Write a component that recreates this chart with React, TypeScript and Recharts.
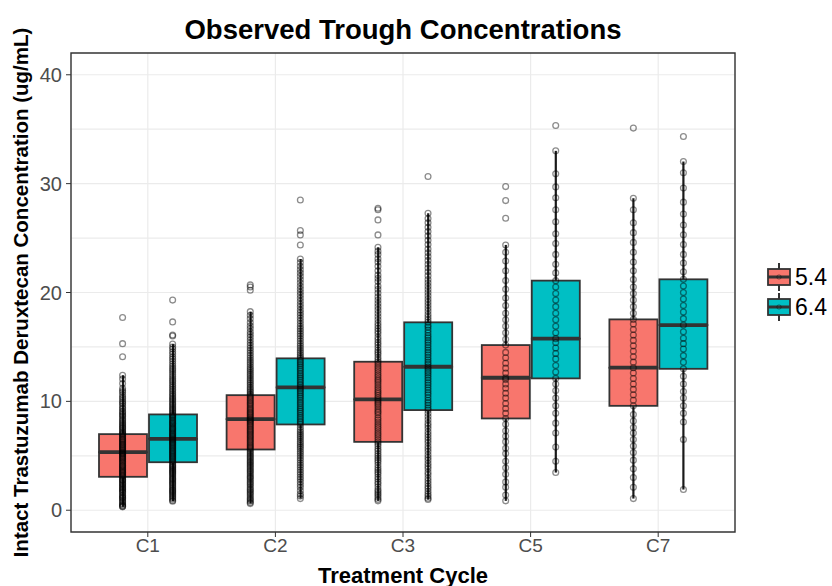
import React from 'react';
import {
  ComposedChart,
  Bar,
  Scatter,
  XAxis,
  YAxis,
  CartesianGrid,
  ReferenceArea,
  Label,
} from 'recharts';

// Treatment cycles on the x axis
const cycles = ['C1', 'C2', 'C3', 'C5', 'C7'];
const doses = ['5.4', '6.4'];
const doseColors = ['#F8766D', '#00BFC4'];

// Box statistics, 5.4 mg/kg
const low54 = [0.31, 0.61, 0.86, 0.86, 1.07];
const q1_54 = [3.07, 5.58, 6.28, 8.43, 9.59];
const med54 = [5.33, 8.37, 10.18, 12.17, 13.09];
const q3_54 = [6.99, 10.57, 13.64, 15.17, 17.53];
const high54 = [12.4, 18.24, 24.15, 24.37, 28.66];

// Box statistics, 6.4 mg/kg
const low64 = [0.83, 1.07, 0.98, 3.46, 1.9];
const q1_64 = [4.41, 7.88, 9.2, 12.11, 12.99];
const med64 = [6.56, 11.28, 13.18, 15.76, 17.01];
const q3_64 = [8.8, 13.95, 17.26, 21.09, 21.21];
const high64 = [15.26, 23.08, 27.28, 33.01, 32.03];

// Individual trough observations, 5.4 mg/kg
const obs54C1 = [
  0.31, 0.42, 0.6, 0.74, 0.95, 1.08, 1.22, 1.4, 1.57, 1.66, 1.85, 2.02, 2.2, 2.31, 2.48, 2.7, 2.83, 2.96, 3.07, 3.21,
  3.4, 3.52, 3.69, 3.85, 4.03, 4.18, 4.3, 4.47, 4.66, 4.8, 4.95, 5.12, 5.25, 5.33, 5.48, 5.64, 5.8, 5.97, 6.1, 6.28,
  6.45, 6.6, 6.78, 6.99, 7.15, 7.36, 7.6, 7.82, 8.05, 8.31, 8.6, 8.84, 9.1, 9.42, 9.77, 10.05, 10.4, 10.83, 11.2, 11.64,
  12.05, 12.4, 14.1, 15.3, 17.7,
  0.35, 0.5, 0.82, 1.15, 1.33, 1.75, 1.93, 2.12, 2.4, 2.6, 2.77, 3.14, 3.3, 3.46, 3.61, 3.77, 3.95, 4.1, 4.38, 4.55,
  4.72, 4.88, 5.05, 5.19, 5.4, 5.56, 5.72, 5.88, 6.04, 6.2, 6.37, 6.52, 6.7, 6.88, 7.05, 7.25, 7.5, 7.7, 7.95, 8.2,
  8.45, 8.72, 9.0, 9.3, 9.6, 9.9, 10.25, 10.6, 11.0,
];
const obs54C2 = [
  0.61, 0.85, 1.1, 1.42, 1.7, 1.96, 2.3, 2.58, 2.9, 3.15, 3.44, 3.7, 3.98, 4.25, 4.5, 4.78, 5.02, 5.3, 5.58, 5.8,
  6.04, 6.3, 6.55, 6.8, 7.04, 7.28, 7.5, 7.76, 8.0, 8.2, 8.37, 8.6, 8.84, 9.05, 9.3, 9.55, 9.8, 10.05, 10.3, 10.57,
  10.85, 11.15, 11.48, 11.8, 12.14, 12.5, 12.86, 13.2, 13.6, 14.0, 14.45, 14.9, 15.38, 15.9, 16.4, 16.95, 17.6, 18.24,
  20.2, 20.5, 20.7,
  0.7, 0.98, 1.26, 1.55, 1.84, 2.12, 2.44, 2.74, 3.02, 3.3, 3.57, 3.84, 4.12, 4.38, 4.64, 4.9, 5.16, 5.44, 5.7, 5.92,
  6.17, 6.42, 6.68, 6.92, 7.16, 7.4, 7.64, 7.88, 8.1, 8.3, 8.5, 8.72, 8.95, 9.18, 9.42, 9.68, 9.92, 10.18, 10.44, 10.7,
  11.0, 11.3, 11.64, 11.97, 12.32, 12.68, 13.02, 13.4, 13.8, 14.22, 14.68, 15.14, 15.64, 16.15, 16.7, 17.25, 17.9,
];
const obs54C3 = [
  0.86, 1.2, 1.55, 1.9, 2.4, 2.85, 3.3, 3.7, 4.15, 4.6, 5.0, 5.45, 5.9, 6.28, 6.7, 7.1, 7.5, 7.9, 8.3, 8.75, 9.1, 9.5,
  9.85, 10.18, 10.55, 10.9, 11.3, 11.7, 12.05, 12.45, 12.85, 13.25, 13.64, 14.05, 14.5, 14.95, 15.4, 15.9, 16.45, 16.95,
  17.5, 18.1, 18.7, 19.3, 19.95, 20.6, 21.3, 22.0, 22.8, 23.5, 24.15, 25.29, 26.67, 27.6, 27.74,
  1.0, 1.4, 1.75, 2.15, 2.6, 3.05, 3.5, 3.9, 4.4, 4.8, 5.2, 5.65, 6.1, 6.5, 6.9, 7.3, 7.7, 8.1, 8.5, 8.95, 9.3, 9.7,
  10.0, 10.35, 10.75, 11.1, 11.5, 11.9, 12.25, 12.65, 13.05, 13.45, 13.85, 14.3, 14.7, 15.2, 15.65, 16.2, 16.7, 17.2,
  17.8, 18.4, 19.0, 19.6, 20.3, 21.0, 21.6, 22.4, 23.1, 23.8,
];
const obs54C5 = [
  0.86, 1.4, 2.1, 2.6, 3.3, 3.9, 4.5, 5.2, 5.7, 6.3, 6.8, 7.3, 7.9, 8.43, 8.9, 9.35, 9.8, 10.3, 10.75, 11.2, 11.6, 12.0,
  12.17, 12.6, 13.05, 13.5, 14.0, 14.5, 15.17, 15.7, 16.3, 16.9, 17.5, 18.1, 18.8, 19.5, 20.3, 21.1, 22.0, 22.9, 23.7,
  24.37, 26.82, 28.44, 29.73,
];
const obs54C7 = [
  1.07, 2.1, 3.0, 3.8, 4.6, 5.3, 5.9, 6.5, 7.1, 7.6, 8.2, 8.8, 9.59, 10.1, 10.6, 11.1, 11.6, 12.1, 12.6, 13.09, 13.6,
  14.1, 14.6, 15.1, 15.6, 16.1, 16.6, 17.1, 17.53, 18.1, 18.7, 19.3, 19.9, 20.5, 21.2, 22.0, 22.8, 23.7, 24.6, 25.5,
  26.4, 27.6, 28.66, 35.1,
];

// Individual trough observations, 6.4 mg/kg
const obs64C1 = [
  0.83, 1.02, 1.25, 1.49, 1.7, 1.88, 2.1, 2.35, 2.54, 2.77, 2.95, 3.18, 3.4, 3.58, 3.77, 3.96, 4.15, 4.41, 4.6, 4.79,
  4.97, 5.16, 5.35, 5.52, 5.71, 5.9, 6.08, 6.25, 6.43, 6.56, 6.74, 6.9, 7.08, 7.27, 7.45, 7.63, 7.85, 8.02, 8.21, 8.44,
  8.63, 8.8, 9.04, 9.3, 9.55, 9.81, 10.1, 10.36, 10.65, 10.98, 11.3, 11.62, 11.95, 12.3, 12.7, 13.05, 13.46, 13.9,
  14.35, 14.8, 15.26, 16.0, 16.1, 17.3, 19.3,
  0.9, 1.15, 1.37, 1.6, 1.8, 2.0, 2.22, 2.45, 2.66, 2.86, 3.07, 3.3, 3.5, 3.68, 3.87, 4.06, 4.28, 4.5, 4.7, 4.88, 5.07,
  5.26, 5.44, 5.62, 5.8, 6.0, 6.17, 6.34, 6.5, 6.65, 6.82, 7.0, 7.17, 7.36, 7.54, 7.74, 7.94, 8.12, 8.32, 8.54, 8.72,
  8.92, 9.17, 9.42, 9.68, 9.95, 10.22, 10.5, 10.8, 11.12, 11.45, 11.8, 12.12, 12.5, 12.88, 13.25, 13.68, 14.1, 14.55,
  15.0,
];
const obs64C2 = [
  1.07, 1.5, 2.1, 2.6, 3.05, 3.5, 3.95, 4.36, 4.8, 5.2, 5.6, 5.95, 6.3, 6.68, 7.02, 7.4, 7.88, 8.2, 8.55, 8.9, 9.25,
  9.6, 9.94, 10.3, 10.62, 10.96, 11.28, 11.6, 11.95, 12.28, 12.6, 12.95, 13.3, 13.62, 13.95, 14.3, 14.7, 15.1, 15.55,
  16.0, 16.45, 16.9, 17.4, 17.9, 18.4, 18.95, 19.5, 20.05, 20.6, 21.2, 21.8, 22.4, 23.08, 24.37, 25.29, 25.69, 28.5,
  1.3, 1.8, 2.35, 2.85, 3.28, 3.72, 4.15, 4.58, 5.0, 5.4, 5.78, 6.12, 6.5, 6.85, 7.2, 7.62, 8.05, 8.38, 8.72, 9.08,
  9.42, 9.78, 10.12, 10.46, 10.8, 11.12, 11.45, 11.78, 12.12, 12.45, 12.78, 13.12, 13.46, 13.78, 14.12, 14.5, 14.9,
  15.32, 15.78, 16.22, 16.68, 17.15, 17.65, 18.15, 18.68, 19.22, 19.78, 20.32, 20.9, 21.5, 22.1, 22.75,
];
const obs64C3 = [
  0.98, 1.3, 1.75, 2.2, 2.7, 3.25, 3.8, 4.3, 4.85, 5.4, 5.9, 6.45, 6.95, 7.5, 8.0, 8.6, 9.2, 9.65, 10.1, 10.6, 11.05,
  11.5, 11.95, 12.4, 12.8, 13.18, 13.6, 14.05, 14.5, 14.95, 15.4, 15.85, 16.3, 16.8, 17.26, 17.75, 18.3, 18.85, 19.4,
  20.0, 20.6, 21.2, 21.9, 22.6, 23.3, 24.0, 24.8, 25.6, 26.4, 27.28, 30.65,
  1.1, 1.5, 2.0, 2.45, 2.95, 3.5, 4.05, 4.6, 5.1, 5.65, 6.2, 6.7, 7.2, 7.75, 8.3, 8.9, 9.4, 9.88, 10.35, 10.82, 11.28,
  11.72, 12.18, 12.6, 13.0, 13.4, 13.82, 14.28, 14.72, 15.18, 15.62, 16.05, 16.55, 17.0, 17.5, 18.0, 18.58, 19.12,
  19.7, 20.3, 20.9, 21.55, 22.25, 22.95, 23.65, 24.4, 25.2, 26.0, 26.8,
];
const obs64C5 = [
  3.46, 4.5, 5.8, 7.1, 8.0, 8.9, 9.6, 10.3, 11.0, 11.6, 12.11, 12.7, 13.3, 13.9, 14.4, 14.9, 15.4, 15.76, 16.3, 16.9,
  17.5, 18.1, 18.7, 19.3, 19.9, 20.5, 21.09, 21.8, 22.6, 23.5, 24.5, 25.4, 26.5, 27.6, 28.7, 29.7, 30.9, 33.01, 35.34,
];
const obs64C7 = [
  1.9, 6.5, 8.1, 8.9, 9.6, 10.3, 10.9, 11.6, 12.3, 12.99, 13.6, 14.2, 14.8, 15.3, 15.8, 16.4, 17.01, 17.6, 18.2, 18.8,
  19.4, 20.0, 20.6, 21.21, 21.9, 22.7, 23.5, 24.4, 25.3, 26.2, 27.2, 28.3, 29.6, 31.0, 32.03, 34.33,
];

const yTicks = [0, 10, 20, 30, 40];
const gridValues = [0, 5, 10, 15, 20, 25, 30, 35, 40];

const TITLE = 'Observed Trough Concentrations';
const X_TITLE = 'Treatment Cycle';
const Y_TITLE = 'Intact Trastuzumab Deruxtecan Concentration (ug/mL)';

const FONT = '"Liberation Sans", Arial, sans-serif';
const Y_DOMAIN: [number, number] = [-2, 42];
const X_DOMAIN: [number, number] = [0.4, 5.6];
const DODGE = 0.196;

// stacked segments: base, lower whisker, lower box, upper box, upper whisker
const rows = cycles.map((cycle, i) => ({
  cycle,
  a0: low54[i],
  a1: q1_54[i] - low54[i],
  a2: med54[i] - q1_54[i],
  a3: q3_54[i] - med54[i],
  a4: high54[i] - q3_54[i],
  b0: low64[i],
  b1: q1_64[i] - low64[i],
  b2: med64[i] - q1_64[i],
  b3: q3_64[i] - med64[i],
  b4: high64[i] - q3_64[i],
}));

const toPoints = (lists: number[][], shift: number) =>
  lists.flatMap((vals, i) => vals.map((v) => ({ x: i + 1 + shift, y: v })));

const points54 = toPoints([obs54C1, obs54C2, obs54C3, obs54C5, obs54C7], -DODGE);
const points64 = toPoints([obs64C1, obs64C2, obs64C3, obs64C5, obs64C7], DODGE);

const Empty = () => <g />;

const Whisker = (p: any) => {
  const cx = p.x + p.width / 2;
  return <line x1={cx} x2={cx} y1={p.y} y2={p.y + p.height} stroke="#1a1a1a" strokeWidth={2.2} />;
};

const BoxLower = (p: any) => (
  <rect x={p.x} y={p.y} width={p.width} height={p.height} fill={p.fill} stroke="#333333" strokeWidth={1.8} />
);

const BoxUpper = (p: any) => (
  <g>
    <rect x={p.x} y={p.y} width={p.width} height={p.height} fill={p.fill} stroke="#333333" strokeWidth={1.8} />
    <line x1={p.x} x2={p.x + p.width} y1={p.y + p.height} y2={p.y + p.height} stroke="#333333" strokeWidth={3.8} />
  </g>
);

const Dot = (p: any) => (
  <circle cx={p.cx} cy={p.cy} r={2.9} fill="none" stroke="#000" strokeOpacity={0.45} strokeWidth={1.3} />
);

const YTitle = (props: any) => {
  const vb = props.viewBox;
  const cx = 20;
  const cy = vb.y + vb.height / 2;
  return (
    <text x={cx} y={cy} transform={`rotate(-90 ${cx} ${cy})`} textAnchor="middle" dominantBaseline="central"
      fontFamily={FONT} fontWeight="bold" fontSize={20.5} fill="#000">
      {Y_TITLE}
    </text>
  );
};

const XTitle = (props: any) => {
  const vb = props.viewBox;
  const cx = vb.x + vb.width / 2;
  const cy = vb.y + 43;
  return (
    <text x={cx} y={cy} textAnchor="middle" dominantBaseline="central" fontFamily={FONT} fontWeight="bold" fontSize={22} fill="#000">
      {X_TITLE}
    </text>
  );
};

const LegendKey = ({ color }: { color: string }) => (
  <svg width={26} height={28} style={{ display: 'block' }}>
    <line x1={13} x2={13} y1={0} y2={28} stroke="#333" strokeWidth={2} />
    <rect x={2} y={6} width={22} height={16} fill={color} stroke="#333" strokeWidth={1.8} />
    <line x1={2} x2={24} y1={14} y2={14} stroke="#333" strokeWidth={3} />
    <circle cx={13} cy={14} r={2.2} fill="none" stroke="#000" strokeOpacity={0.35} />
  </svg>
);

export default function App() {
  const yTickStyle = { fill: '#4D4D4D', fontSize: 20, fontFamily: FONT };
  const xTickStyle = { fill: '#4D4D4D', fontSize: 19, fontFamily: FONT };
  return (
    <div style={{ position: 'absolute', left: 0, top: 0, width: 832, height: 586, background: '#fff' }}>
      <div
        style={{
          position: 'absolute', left: 71, width: 664, top: 14, textAlign: 'center',
          fontFamily: FONT, fontWeight: 'bold', fontSize: 27.5, lineHeight: '32px', color: '#000',
        }}
      >
        {TITLE}
      </div>
      <ComposedChart
        width={832}
        height={586}
        data={rows}
        margin={{ top: 53, right: 97, bottom: 0, left: 4 }}
        barSize={48}
        barGap={2}
      >
        <CartesianGrid xAxisId="cat" stroke="#EBEBEB" strokeWidth={1.2} horizontalValues={gridValues} />
        <XAxis
          xAxisId="cat"
          dataKey="cycle"
          type="category"
          height={54}
          padding={{ left: 13, right: 13 }}
          axisLine={false}
          tickLine={{ stroke: '#333' }}
          tickSize={5}
          tickMargin={2}
          tick={xTickStyle}
          interval={0}
        >
          <Label content={XTitle} />
        </XAxis>
        <XAxis xAxisId="num" type="number" dataKey="x" domain={X_DOMAIN} allowDataOverflow hide />
        <YAxis
          type="number"
          domain={Y_DOMAIN}
          allowDataOverflow
          ticks={yTicks}
          width={67}
          axisLine={false}
          tickLine={{ stroke: '#333' }}
          tickSize={5}
          tickMargin={4}
          tick={yTickStyle}
        >
          <Label content={YTitle} />
        </YAxis>
        <ReferenceArea xAxisId="num" x1={X_DOMAIN[0]} x2={X_DOMAIN[1]} y1={Y_DOMAIN[0]} y2={Y_DOMAIN[1]}
          fill="none" fillOpacity={0} stroke="#333" strokeWidth={1.4} ifOverflow="visible" />

        <Bar xAxisId="cat" dataKey="a0" stackId="d54" fill={doseColors[0]} shape={Empty} isAnimationActive={false} />
        <Bar xAxisId="cat" dataKey="a1" stackId="d54" fill={doseColors[0]} shape={Whisker} isAnimationActive={false} />
        <Bar xAxisId="cat" dataKey="a2" stackId="d54" fill={doseColors[0]} shape={BoxLower} isAnimationActive={false} />
        <Bar xAxisId="cat" dataKey="a3" stackId="d54" fill={doseColors[0]} shape={BoxUpper} isAnimationActive={false} />
        <Bar xAxisId="cat" dataKey="a4" stackId="d54" fill={doseColors[0]} shape={Whisker} isAnimationActive={false} />

        <Bar xAxisId="cat" dataKey="b0" stackId="d64" fill={doseColors[1]} shape={Empty} isAnimationActive={false} />
        <Bar xAxisId="cat" dataKey="b1" stackId="d64" fill={doseColors[1]} shape={Whisker} isAnimationActive={false} />
        <Bar xAxisId="cat" dataKey="b2" stackId="d64" fill={doseColors[1]} shape={BoxLower} isAnimationActive={false} />
        <Bar xAxisId="cat" dataKey="b3" stackId="d64" fill={doseColors[1]} shape={BoxUpper} isAnimationActive={false} />
        <Bar xAxisId="cat" dataKey="b4" stackId="d64" fill={doseColors[1]} shape={Whisker} isAnimationActive={false} />

        <Scatter xAxisId="num" data={points54} dataKey="y" shape={Dot} isAnimationActive={false} />
        <Scatter xAxisId="num" data={points64} dataKey="y" shape={Dot} isAnimationActive={false} />
      </ComposedChart>
      <div style={{ position: 'absolute', left: 766, top: 262, fontFamily: FONT, fontSize: 23, color: '#000' }}>
        {doses.map((d, i) => (
          <div key={d} style={{ display: 'flex', alignItems: 'center', height: 30 }}>
            <LegendKey color={doseColors[i]} />
            <span style={{ marginLeft: 3 }}>{d}</span>
          </div>
        ))}
      </div>
    </div>
  );
}
